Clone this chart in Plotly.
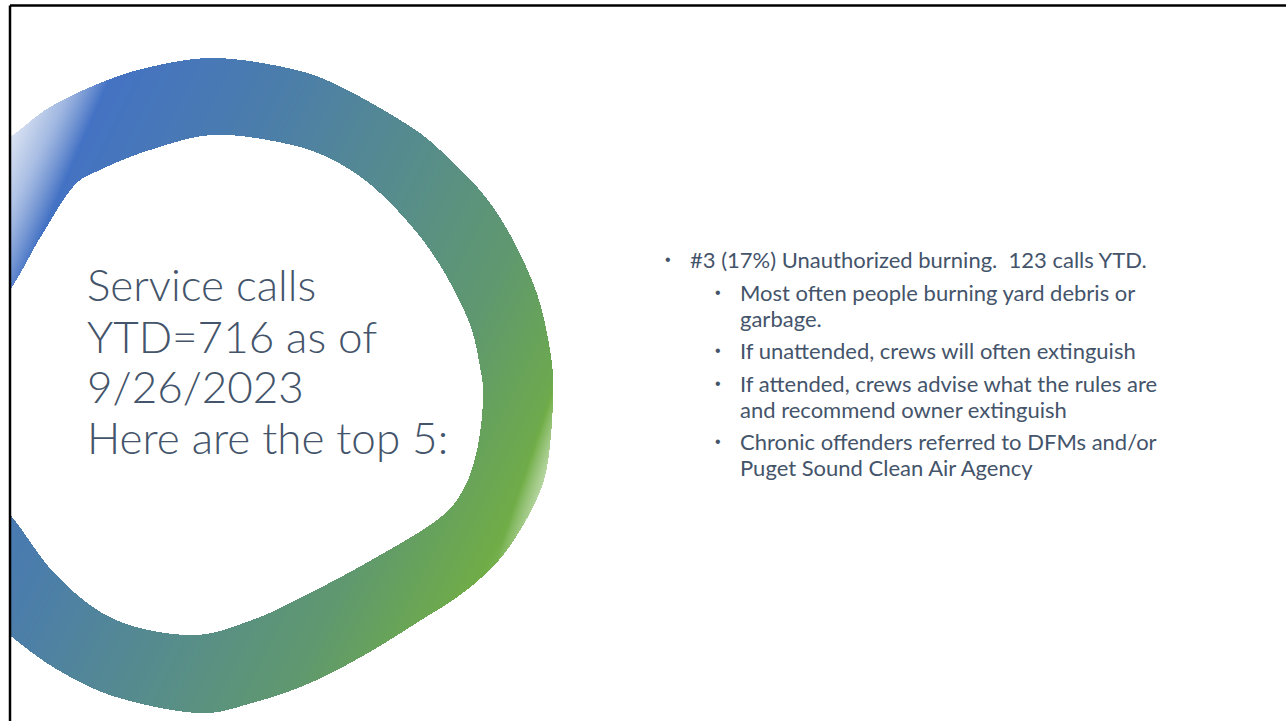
import numpy as np
import plotly.graph_objects as go

W, H = 1286, 721

# ---- ring outline (slide pixel coordinates, y downward) ----
OUTER_X = [-30, 13, 50, 100, 150, 213, 283, 333, 400, 440, 493, 533, 550, 553, 547, 533, 507, 481, 453, 426, 368, 310, 252, 198, 116, 58, 12, -30]
OUTER_Y = [165, 135, 107, 83, 67, 58, 67, 83, 120, 150, 207, 283, 350, 400, 467, 507, 550, 578, 600, 617, 653, 683, 703, 713, 697, 670, 637, 600]
INNER_X = [-30, 10, 40, 73, 100, 150, 213, 283, 333, 380, 430, 467, 480, 483, 477, 463, 437, 375, 310, 252, 192, 116, 58, 12, -30]
INNER_Y = [340, 290, 238, 187, 170, 150, 135, 143, 160, 193, 250, 317, 367, 400, 450, 490, 520, 558, 593, 620, 635, 620, 577, 517, 470]

RING_COLORS = [
    [0.00, "#E4EAF6"],
    [0.15, "#4472C4"],
    [0.35, "#4B7DAB"],
    [0.55, "#578D8A"],
    [0.70, "#5F986F"],
    [0.85, "#70AD47"],
    [1.00, "#C8E0B8"],
]

TITLE_LINES = ["Service calls", "YTD=716 as of", "9/26/2023", "Here are the top 5:"]
TITLE_Y = [284, 336, 386, 437]

BULLET_LEVELS = [0, 1, 1, 1, 1, 1, 1, 1]
BULLET_MARK = [True, True, False, True, True, False, True, False]
BULLET_TEXT = [
    "#3 (17%) Unauthorized burning.  123 calls YTD.",
    "Most often people burning yard debris or",
    "garbage.",
    "If unattended, crews will often extinguish",
    "If attended, crews advise what the rules are",
    "and recommend owner extinguish",
    "Chronic offenders referred to DFMs and/or",
    "Puget Sound Clean Air Agency",
]
BULLET_Y = [259, 292, 318, 350, 383, 409, 441, 467]

TEXT_COLOR = "#44546A"


def catmull_closed(xs, ys, n=16):
    p = np.column_stack([xs, ys]).astype(float)
    m = len(p)
    out = []
    for i in range(m):
        p0, p1, p2, p3 = p[(i - 1) % m], p[i], p[(i + 1) % m], p[(i + 2) % m]
        for t in np.linspace(0, 1, n, endpoint=False):
            t2, t3 = t * t, t * t * t
            out.append(0.5 * ((2 * p1) + (-p0 + p2) * t + (2 * p0 - 5 * p1 + 4 * p2 - p3) * t2
                              + (-p0 + 3 * p1 - 3 * p2 + p3) * t3))
    return np.array(out)


def edges(poly):
    a = poly
    b = np.roll(poly, -1, axis=0)
    return a[:, 0], a[:, 1], b[:, 0], b[:, 1]


outer = catmull_closed(OUTER_X, OUTER_Y)
inner = catmull_closed(INNER_X, INNER_Y)
E = [np.concatenate(v) for v in zip(edges(outer), edges(inner))]
x0e, y0e, x1e, y1e = E

xc = np.arange(11, 562) + 0.5
yc = np.arange(50, 721) + 0.5
X, Y = np.meshgrid(xc, yc)
mask = np.zeros(X.shape, dtype=bool)
for r, yy in enumerate(yc):
    cross = (y0e <= yy) != (y1e <= yy)
    if not cross.any():
        continue
    xa = x0e[cross] + (yy - y0e[cross]) * (x1e[cross] - x0e[cross]) / (y1e[cross] - y0e[cross])
    xa = np.sort(xa)
    for k in range(0, len(xa) - 1, 2):
        mask[r] |= (xc >= xa[k]) & (xc < xa[k + 1])

# gradient value along the ring
s = X + 0.5 * Y
t = 0.15 + (s - 142) / (770 - 142) * 0.70
t = np.clip(t, 0.12, 0.86)
# pale glow top-left
u = X + 0.4 * (Y - 130)
wl = np.clip((u - 8) / 85, 0, 1)
t = np.where(Y < 420, t * wl, t)
# pale glow bottom-right
w2 = (155 * X + 48 * Y) / 162.3
p = np.clip((w2 - 640) / 22, 0, 1)
t = t + (1 - t) * p * 0.8
z = np.where(mask, t, np.nan).astype(np.float32)

fig = go.Figure()
fig.add_trace(go.Heatmap(x=xc, y=yc, z=z, colorscale=RING_COLORS, zmin=0, zmax=1,
                         showscale=False, hoverinfo="skip", zsmooth=False))

# slide border
fig.add_shape(type="line", x0=10, y0=5.5, x1=1300, y1=5.5, line=dict(color="black", width=2.5), layer="above")
fig.add_shape(type="line", x0=10, y0=5.5, x1=10, y1=730, line=dict(color="black", width=2.5), layer="above")

for line, yy in zip(TITLE_LINES, TITLE_Y):
    fig.add_annotation(x=85, y=yy, text=line, showarrow=False, xanchor="left", yanchor="middle",
                       font=dict(family="Lato", size=44, color=TEXT_COLOR, weight=300))

for lvl, mark, txt, yy in zip(BULLET_LEVELS, BULLET_MARK, BULLET_TEXT, BULLET_Y):
    bx = 668 if lvl == 0 else 718
    tx = 688 if lvl == 0 else 738
    if mark:
        fig.add_annotation(x=bx, y=yy, text="•", showarrow=False, xanchor="center", yanchor="middle",
                           font=dict(family="Arial", size=16, color=TEXT_COLOR))
    fig.add_annotation(x=tx, y=yy, text=txt, showarrow=False, xanchor="left", yanchor="middle",
                       font=dict(family="Lato", size=22, color=TEXT_COLOR))

fig.update_layout(
    width=W, height=H, margin=dict(l=0, r=0, t=0, b=0),
    paper_bgcolor="white", plot_bgcolor="white", showlegend=False,
    xaxis=dict(range=[0, W], visible=False, fixedrange=True),
    yaxis=dict(range=[H, 0], visible=False, fixedrange=True),
)
fig.write_html("out.html", config={"displayModeBar": False},
               post_script="document.body.style.margin='0';document.body.style.overflow='hidden';")
